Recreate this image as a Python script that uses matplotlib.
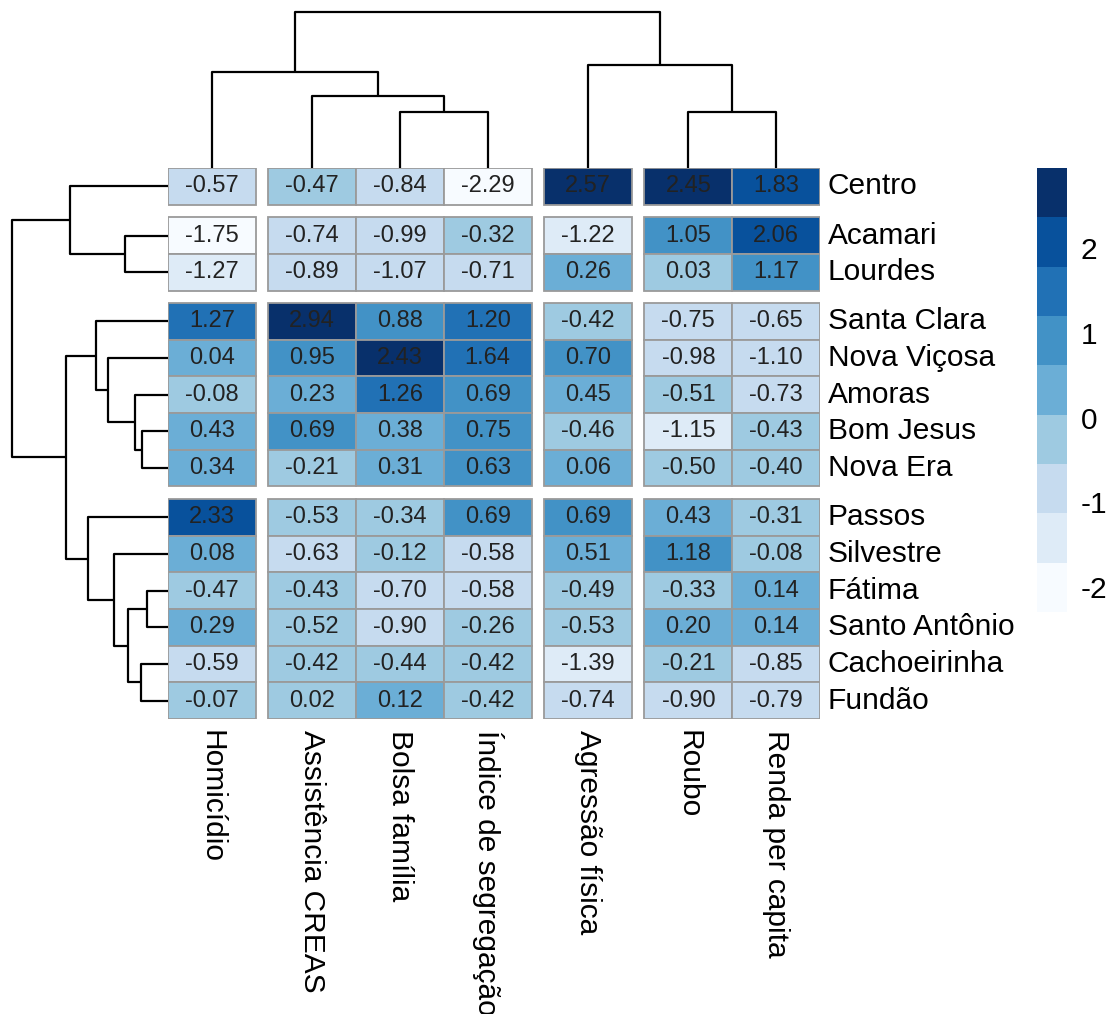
import numpy as np
import matplotlib
matplotlib.use('Agg')
import matplotlib.pyplot as plt
from matplotlib.colors import ListedColormap, BoundaryNorm
from matplotlib.patches import Rectangle

plt.rcParams['font.family'] = ['Liberation Sans', 'DejaVu Sans']
plt.rcParams['axes.unicode_minus'] = False

# dados padronizados (z-score) por bairro
bairros = ['Centro', 'Acamari', 'Lourdes', 'Santa Clara', 'Nova Viçosa', 'Amoras',
           'Bom Jesus', 'Nova Era', 'Passos', 'Silvestre', 'Fátima', 'Santo Antônio',
           'Cachoeirinha', 'Fundão']
variaveis = ['Homicídio', 'Assistência CREAS', 'Bolsa família', 'Índice de segregação',
             'Agressão física', 'Roubo', 'Renda per capita']

homicidio   = [-0.57, -1.75, -1.27, 1.27, 0.04, -0.08, 0.43, 0.34, 2.33, 0.08, -0.47, 0.29, -0.59, -0.07]
creas       = [-0.47, -0.74, -0.89, 2.94, 0.95, 0.23, 0.69, -0.21, -0.53, -0.63, -0.43, -0.52, -0.42, 0.02]
bolsa       = [-0.84, -0.99, -1.07, 0.88, 2.43, 1.26, 0.38, 0.31, -0.34, -0.12, -0.70, -0.90, -0.44, 0.12]
segregacao  = [-2.29, -0.32, -0.71, 1.20, 1.64, 0.69, 0.75, 0.63, 0.69, -0.58, -0.58, -0.26, -0.42, -0.42]
agressao    = [2.57, -1.22, 0.26, -0.42, 0.70, 0.45, -0.46, 0.06, 0.69, 0.51, -0.49, -0.53, -1.39, -0.74]
roubo       = [2.45, 1.05, 0.03, -0.75, -0.98, -0.51, -1.15, -0.50, 0.43, 1.18, -0.33, 0.20, -0.21, -0.90]
renda       = [1.83, 2.06, 1.17, -0.65, -1.10, -0.73, -0.43, -0.40, -0.31, -0.08, 0.14, 0.14, -0.85, -0.79]

# cortes das arvores (cutree = 4)
gaps_row = [1, 3, 8]
gaps_col = [1, 4, 5]

# arvores: (filho a, filho b, altura); ids >= n sao fusoes anteriores
Z_col = [(2, 3, 56), (5, 6, 56), (1, 7, 72), (0, 9, 96), (4, 8, 103), (10, 11, 156)]
Z_row = [(1, 2, 43), (6, 7, 26), (10, 11, 21), (12, 13, 27), (5, 15, 33), (16, 17, 40),
         (4, 18, 60), (9, 19, 54), (3, 20, 72), (8, 21, 80), (0, 14, 98), (22, 23, 102),
         (24, 25, 155.5)]

ticks_leg = [-2, -1, 0, 1, 2]

M = np.array([homicidio, creas, bolsa, segregacao, agressao, roubo, renda]).T
nr, nc = M.shape

cores = ['#F7FBFF', '#DEEBF7', '#C6DBEF', '#9ECAE1', '#6BAED6',
         '#4292C6', '#2171B5', '#08519C', '#08306B']
breaks = np.linspace(M.min(), M.max(), len(cores) + 1)
cmap = ListedColormap(cores)
norm = BoundaryNorm(breaks, cmap.N)

W, H = 1113, 1014
fig = plt.figure(figsize=(W / 100, H / 100), dpi=100)

def box(x0, y0, x1, y1):
    return [x0 / W, 1 - y1 / H, (x1 - x0) / W, (y1 - y0) / H]

hx0, hy0, hx1, hy1 = 168, 168, 820, 719
gap = 12.5
cw = (hx1 - hx0 - len(gaps_col) * gap) / nc
ch = (hy1 - hy0 - len(gaps_row) * gap) / nr
gx, gy = gap / cw, gap / ch

xpos = np.array([j + gx * sum(j >= g for g in gaps_col) for j in range(nc)])
ypos = np.array([i + gy * sum(i >= g for g in gaps_row) for i in range(nr)])

ax = fig.add_axes(box(hx0, hy0, hx1, hy1))
ax.set_xlim(0, nc + gx * len(gaps_col))
ax.set_ylim(nr + gy * len(gaps_row), 0)
ax.axis('off')

for i in range(nr):
    for j in range(nc):
        v = M[i, j]
        ax.add_patch(Rectangle((xpos[j], ypos[i]), 1, 1, facecolor=cmap(norm(v)),
                               edgecolor='#9a9a9a', lw=1.3))
        ax.text(xpos[j] + 0.5, ypos[i] + 0.5, f'{v:.2f}', ha='center', va='center',
                fontsize=17, color='#222222')

for i, b in enumerate(bairros):
    ax.text(nc + gx * len(gaps_col) + 0.09, ypos[i] + 0.5, b, ha='left', va='center',
            fontsize=21.5, color='black')
for j, v in enumerate(variaveis):
    ax.text(xpos[j] + 0.5, nr + gy * len(gaps_row) + 0.3, v, rotation=270,
            ha='center', va='top', fontsize=21.5, color='black')


def dendro(axd, Z, leaves, vertical):
    n = len(leaves)
    pos = list(leaves)
    alt = [0.0] * n
    for a, b, h in Z:
        pa, pb = pos[a], pos[b]
        xs = [pa, pa, pb, pb]
        ys = [alt[a], h, h, alt[b]]
        if vertical:
            axd.plot(xs, ys, color='black', lw=1.6, clip_on=False, solid_capstyle='butt')
        else:
            axd.plot(ys, xs, color='black', lw=1.6, clip_on=False, solid_capstyle='butt')
        pos.append((pa + pb) / 2)
        alt.append(h)
    return max(alt)


# dendrograma das colunas
axt = fig.add_axes(box(hx0, 12, hx1, hy0))
top = dendro(axt, Z_col, xpos + 0.5, True)
axt.set_xlim(ax.get_xlim())
axt.set_ylim(0, top)
axt.axis('off')

# dendrograma das linhas
axl = fig.add_axes(box(12, hy0, hx0, hy1))
top = dendro(axl, Z_row, ypos + 0.5, False)
axl.set_ylim(ax.get_ylim())
axl.set_xlim(top, 0)
axl.axis('off')

# legenda
axc = fig.add_axes(box(1037, 168, 1067, 612))
for k in range(len(cores)):
    axc.add_patch(Rectangle((0, breaks[k]), 1, breaks[k + 1] - breaks[k],
                            facecolor=cores[k], edgecolor='none'))
axc.set_xlim(0, 1)
axc.set_ylim(breaks[0], breaks[-1])
axc.set_xticks([])
axc.yaxis.tick_right()
axc.set_yticks(ticks_leg)
axc.set_yticklabels([str(t) for t in ticks_leg], fontsize=21.5)
axc.tick_params(axis='y', length=0, pad=10)
for s in axc.spines.values():
    s.set_visible(False)

fig.savefig('out.png', dpi=100)
